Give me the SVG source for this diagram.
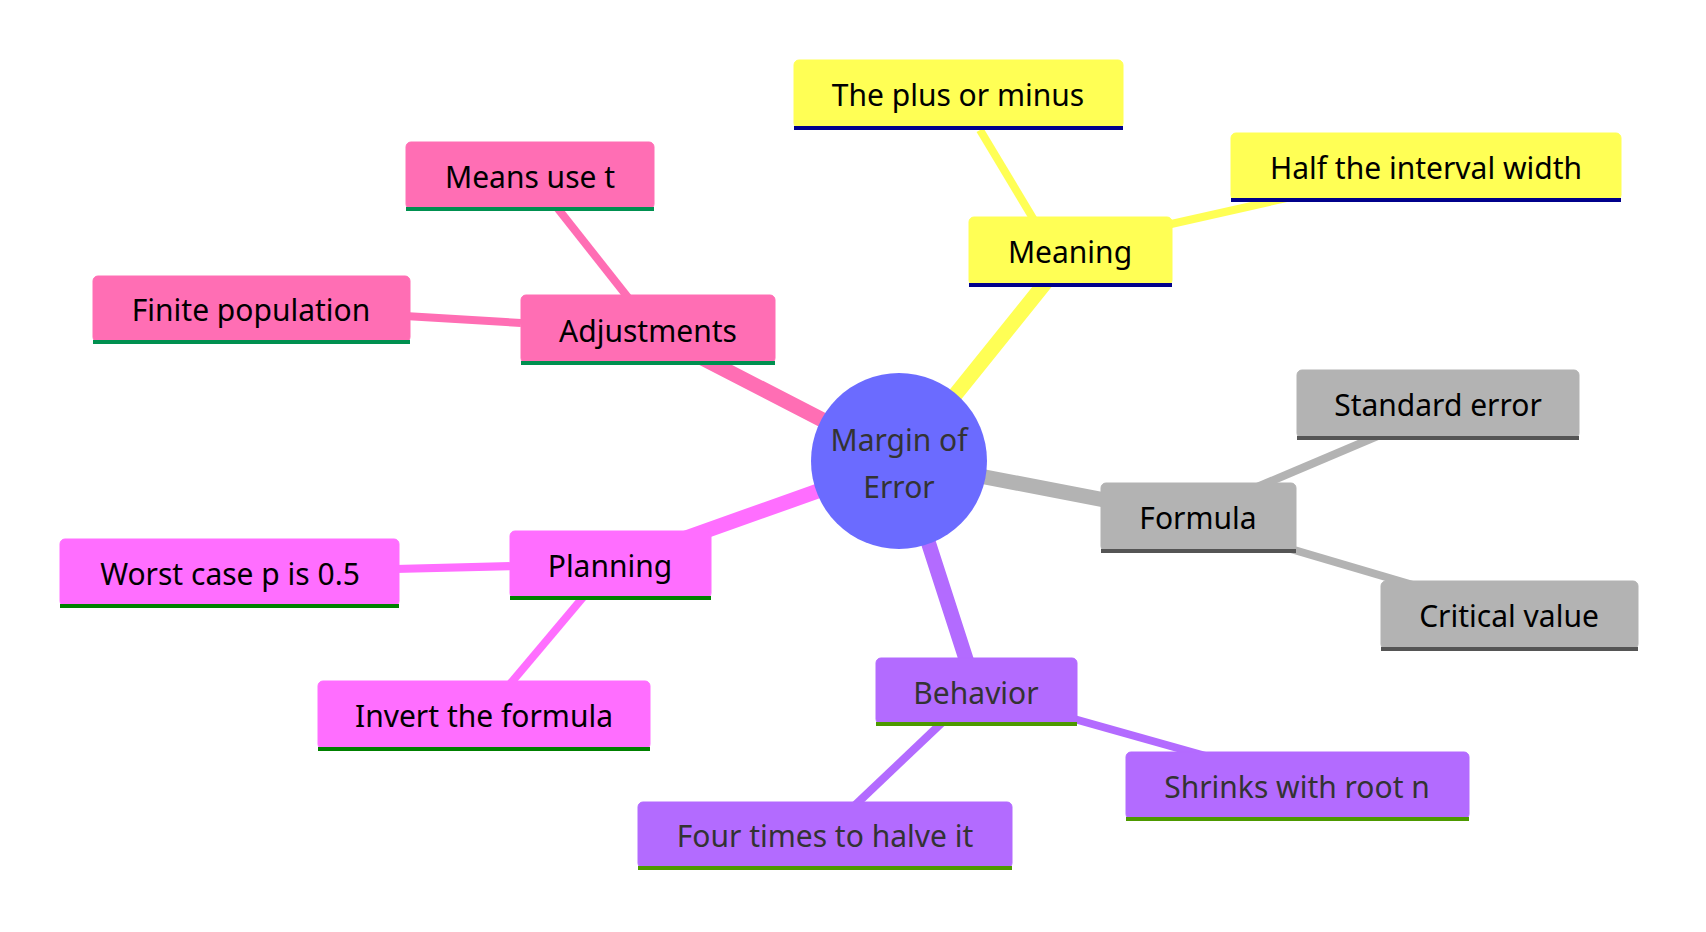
<svg xmlns="http://www.w3.org/2000/svg" width="1706" height="932" viewBox="0 0 1706 932">
<style>
text{font-family:"Noto Sans","Open Sans",sans-serif;font-size:30px;text-anchor:middle;dominant-baseline:central;fill:#000}
.m{stroke-width:15;stroke-linecap:round;fill:none}
.s{stroke-width:8;fill:none}
.y{fill:#ffff55;stroke:#ffff55}.p{fill:#ff6eb4;stroke:#ff6eb4}.q{fill:#ff6eff;stroke:#ff6eff}.v{fill:#b36bff;stroke:#b36bff}.g{fill:#b3b3b3;stroke:#b3b3b3}
.d text{fill:#333}
</style>
<g id="connectors">
<line class="m y" x1="902" y1="461" x2="1070" y2="252"/>
<line class="s y" x1="1040" y1="230" x2="980" y2="130"/>
<line class="s y" x1="1100" y1="240" x2="1300" y2="195"/>
<line class="m p" x1="902" y1="461" x2="648" y2="330"/>
<line class="s p" x1="630" y1="300" x2="555" y2="205"/>
<line class="s p" x1="521" y1="323" x2="405" y2="316"/>
<line class="m g" x1="902" y1="461" x2="1198" y2="518"/>
<line class="s g" x1="1250" y1="490" x2="1380" y2="435"/>
<line class="s g" x1="1260" y1="540" x2="1430" y2="590"/>
<line class="m q" x1="902" y1="461" x2="610" y2="565"/>
<line class="s q" x1="515" y1="566" x2="395" y2="569"/>
<line class="s q" x1="585" y1="595" x2="505" y2="690"/>
<line class="m v" x1="902" y1="461" x2="976" y2="690"/>
<line class="s v" x1="1060" y1="715" x2="1220" y2="760"/>
<line class="s v" x1="950" y1="715" x2="850" y2="810"/>
</g>
<g id="center"><circle cx="899" cy="461" r="88" fill="#6b6bff"/><text x="899" y="439" fill="#333" style="fill:#333">Margin of</text><text x="899" y="486" style="fill:#333">Error</text></g>
<g id="meaning"><rect x="969" y="217" width="203" height="68" rx="5" class="y"/><rect x="969" y="283" width="203" height="4" fill="#00008b"/><text x="1070" y="251">Meaning</text></g>
<g id="plus"><rect x="794" y="60" width="329" height="68" rx="5" class="y"/><rect x="794" y="126" width="329" height="4" fill="#00008b"/><text x="958" y="94">The plus or minus</text></g>
<g id="half"><rect x="1231" y="133" width="390" height="67" rx="5" class="y"/><rect x="1231" y="198" width="390" height="4" fill="#00008b"/><text x="1426" y="167">Half the interval width</text></g>
<g id="adjustments"><rect x="521" y="295" width="254" height="68" rx="5" class="p"/><rect x="521" y="361" width="254" height="4" fill="#009050"/><text x="648" y="330">Adjustments</text></g>
<g id="meanst"><rect x="406" y="142" width="248" height="67" rx="5" class="p"/><rect x="406" y="207" width="248" height="4" fill="#009050"/><text x="530" y="176">Means use t</text></g>
<g id="finite"><rect x="93" y="276" width="317" height="66" rx="5" class="p"/><rect x="93" y="340" width="317" height="4" fill="#009050"/><text x="251" y="309">Finite population</text></g>
<g id="formula"><rect x="1101" y="483" width="195" height="68" rx="5" class="g"/><rect x="1101" y="549" width="195" height="4" fill="#555"/><text x="1198" y="517">Formula</text></g>
<g id="stderr"><rect x="1297" y="370" width="282" height="68" rx="5" class="g"/><rect x="1297" y="436" width="282" height="4" fill="#555"/><text x="1438" y="404">Standard error</text></g>
<g id="critical"><rect x="1381" y="581" width="257" height="68" rx="5" class="g"/><rect x="1381" y="647" width="257" height="4" fill="#555"/><text x="1509" y="615">Critical value</text></g>
<g id="planning"><rect x="510" y="531" width="201" height="67" rx="5" class="q"/><rect x="510" y="596" width="201" height="4" fill="#008000"/><text x="610" y="565">Planning</text></g>
<g id="worst"><rect x="60" y="539" width="339" height="67" rx="5" class="q"/><rect x="60" y="604" width="339" height="4" fill="#008000"/><text x="230" y="573">Worst case p is 0.5</text></g>
<g id="invert"><rect x="318" y="681" width="332" height="68" rx="5" class="q"/><rect x="318" y="747" width="332" height="4" fill="#008000"/><text x="484" y="715">Invert the formula</text></g>
<g id="behavior" class="d"><rect x="876" y="658" width="201" height="66" rx="5" class="v"/><rect x="876" y="722" width="201" height="4" fill="#4d9900"/><text x="976" y="692">Behavior</text></g>
<g id="shrinks" class="d"><rect x="1126" y="752" width="343" height="67" rx="5" class="v"/><rect x="1126" y="817" width="343" height="4" fill="#4d9900"/><text x="1297" y="786">Shrinks with root n</text></g>
<g id="four" class="d"><rect x="638" y="802" width="374" height="66" rx="5" class="v"/><rect x="638" y="866" width="374" height="4" fill="#4d9900"/><text x="825" y="835">Four times to halve it</text></g>
</svg>
